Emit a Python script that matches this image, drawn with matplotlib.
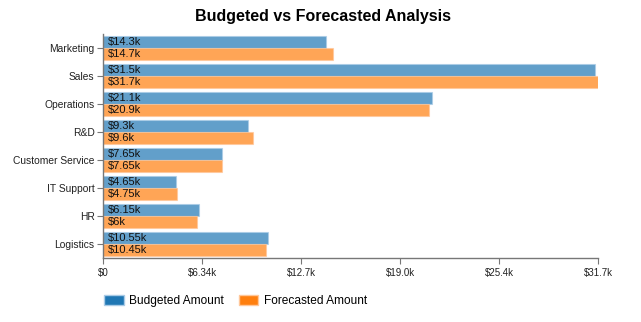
import numpy as np
import matplotlib.pyplot as plt
from matplotlib.patches import Patch

plt.rcParams["font.family"] = ["Liberation Sans", "DejaVu Sans"]

categories = ["Marketing", "Sales", "Operations", "R&D", "Customer Service",
              "IT Support", "HR", "Logistics"]
budgeted = [14300, 31500, 21100, 9300, 7650, 4650, 6150, 10550]
forecasted = [14700, 31700, 20900, 9600, 7650, 4750, 6000, 10450]
budget_labels = ["$14.3k", "$31.5k", "$21.1k", "$9.3k", "$7.65k", "$4.65k", "$6.15k", "$10.55k"]
forecast_labels = ["$14.7k", "$31.7k", "$20.9k", "$9.6k", "$7.65k", "$4.75k", "$6k", "$10.45k"]
tick_vals = [0, 6340, 12680, 19020, 25360, 31700]
tick_labels = ["$0", "$6.34k", "$12.7k", "$19.0k", "$25.4k", "$31.7k"]

blue = "#1f77b4"
orange = "#ff7f0e"

fig = plt.figure(figsize=(6.41, 3.22), dpi=100)
ax = fig.add_axes([103 / 641, 64 / 322, 495 / 641, 224 / 322])

y = np.arange(len(categories))
h = 0.43
ax.barh(y - h / 2, budgeted, height=h, color=blue, alpha=0.7,
        edgecolor="#a9cbe6", linewidth=0.8)
ax.barh(y + h / 2, forecasted, height=h, color=orange, alpha=0.7,
        edgecolor="#ffc79a", linewidth=0.8)

for i in range(len(categories)):
    ax.text(320, y[i] - h / 2, budget_labels[i], va="center", ha="left",
            fontsize=8, color="#111111")
    ax.text(320, y[i] + h / 2, forecast_labels[i], va="center", ha="left",
            fontsize=8, color="#111111")

ax.set_ylim(len(categories) - 0.5, -0.5)
ax.set_xlim(0, 31700)
ax.set_yticks(y)
ax.set_yticklabels(categories, fontsize=7.4, color="#222222")
ax.set_xticks(tick_vals)
ax.set_xticklabels(tick_labels, fontsize=7, color="#222222")

for s in ["top", "right"]:
    ax.spines[s].set_visible(False)
for s in ["left", "bottom"]:
    ax.spines[s].set_color("#777777")
    ax.spines[s].set_linewidth(1)
ax.tick_params(axis="y", length=4, color="#777777", pad=2)
ax.tick_params(axis="x", length=4, color="#777777", pad=3)

fig.text(323 / 641, 1 - 16 / 322, "Budgeted vs Forecasted Analysis", ha="center",
         va="center", fontsize=11.5, fontweight="bold")

handles = [Patch(facecolor=blue, edgecolor="#a9cbe6", label="Budgeted Amount"),
           Patch(facecolor=orange, edgecolor="#ffc79a", label="Forecasted Amount")]
fig.legend(handles=handles, loc="center left", bbox_to_anchor=(99 / 641, 1 - 301 / 322),
           borderaxespad=0, ncol=2, frameon=False, fontsize=8.6,
           handlelength=1.67, handleheight=0.83, columnspacing=1.25,
           handletextpad=0.42)

fig.savefig("out.png", dpi=100)
